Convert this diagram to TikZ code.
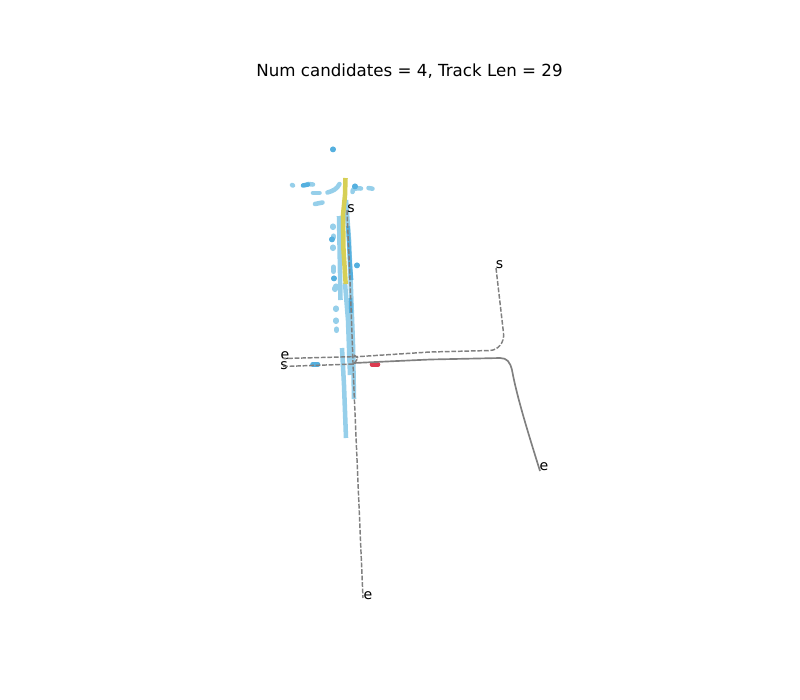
\documentclass[tikz,border=0pt]{standalone}
\usepackage{fontspec}
\setmainfont{DejaVu Sans}
\usetikzlibrary{positioning}
\definecolor{lightlane}{HTML}{96CFEA}
\definecolor{darklane}{HTML}{55B0DF}
\definecolor{yellowlane}{HTML}{D6CF55}
\definecolor{redlane}{HTML}{DC3B50}
\definecolor{trackgray}{HTML}{808080}
\tikzset{
	lane/.style={line width=3.4pt,line join=round,lightlane},
	shortlane/.style={lane,line cap=round,line width=3.4pt},
	dotlane/.style={lane,line cap=round,line width=3.8pt},
	darkseg/.style={dotlane,darklane},
	track/.style={line width=1.1pt,trackgray,dash pattern=on 3.6pt off 1.3pt},
	tracksolid/.style={line width=1.25pt,trackgray},
	endlabel/.style={font=\fontsize{10.6pt}{12pt}\selectfont,inner sep=0pt,anchor=base},
}
\begin{document}
\begin{tikzpicture}[x=0.75pt,y=-0.75pt]
	\useasboundingbox (0,0) rectangle (800,700);
	\node[font=\fontsize{12.5pt}{15pt}\selectfont,anchor=base] (title) at (409.5,76) {Num candidates = 4, Track Len = 29};
	% lanes
	\draw[lane] (339,216) -- (340.5,300);
	\draw[lane] (346,200) -- (349,240) -- (351,290);
	\draw[lane] (345,283) -- (348,320) -- (350,375);
	\draw[lane] (351,290) -- (353,345) -- (354,399);
	\draw[lane] (342,348) -- (344,385) -- (346,438);
	\draw[shortlane] (313,193) -- (319.5,193);
	\draw[shortlane] (327.5,192.5) .. controls (333,191) and (337,189) .. (339.5,184);
	\draw[shortlane] (315,204) -- (322.5,202.5);
	\draw[shortlane] (352.5,192) .. controls (352.5,189) and (354,188) .. (361,188.5);
	\draw[shortlane] (368.5,188) -- (372.5,188.7);
	\draw[shortlane] (292,185) -- (293,185.5);
	\draw[shortlane] (308,184) -- (313,184.5);
	\foreach \px/\py in {333/226,333.5/236,333/247,333.5/267,333.5/270,336/286,335/288,336/308,336/320,336.5/329}
		\draw[dotlane] (\px,\py) -- ++(0,1.5);
	\draw[darkseg,line width=3.4pt] (303,185.5) -- (308,184.5);
	\draw[darkseg,line width=2.8pt,line cap=butt] (348,226) -- (350,262);
	\draw[darkseg,line width=2.8pt,line cap=butt] (350,262) -- (351.5,280);
	\draw[darkseg,line width=2.8pt,line cap=butt] (350.5,298) -- (351,313);
	\draw[darkseg,line width=3.4pt] (312.5,364.5) -- (318,364.5);
	\foreach \px/\py in {333/149,357/265,332/239,334/278,355/186}
		\draw[darkseg] (\px,\py) -- ++(0,0.8);
	\draw[lane,yellowlane] (345.5,178) -- (345,195) -- (343,215) -- (343.5,250) -- (345.7,284);
	\draw[shortlane,redlane] (372,364.6) -- (378,364.6);
	% tracks
	\node[endlabel] (s_top) at (351,212) {s};
	\node[endlabel] (s_right) at (499.5,268.5) {s};
	\node[endlabel] (s_left) at (284,369.5) {s};
	\node[endlabel] (e_left) at (285,359) {e};
	\node[endlabel] (e_right) at (544,470) {e};
	\node[endlabel] (e_bottom) at (368,599) {e};
	\coordinate (t1) at (347,210);
	\coordinate (t2) at (363,598);
	\coordinate (t3) at (496,268);
	\coordinate (t4) at (283,358.5);
	\coordinate (t5) at (283,366.5);
	\coordinate (t6) at (540,471);
	\draw[track] (t1) -- (350,280) -- (354,390) -- (t2);
	\draw[track] (t3) -- (503.5,333) .. controls (504.5,343) and (498,350) .. (490,350.5) -- (430,352) -- (360,356.5) -- (t4);
	\draw[track] (t5) -- (354,364) -- (358,358) -- (354,355);
	\draw[tracksolid] (354,363) -- (430,359.5) -- (500,358) .. controls (507,358) and (510,362) .. (512,370) .. controls (516,392) and (524,420) .. (t6);
\end{tikzpicture}
\end{document}
